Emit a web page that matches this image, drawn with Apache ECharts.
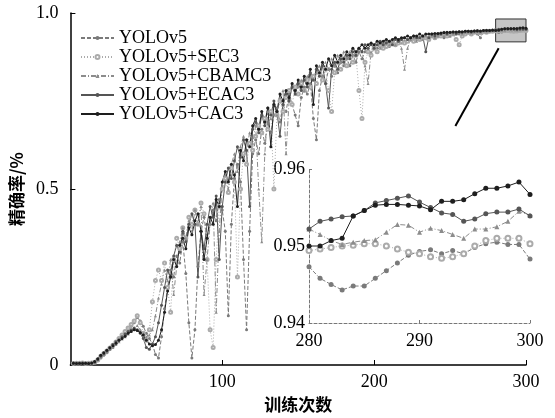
<!DOCTYPE html>
<html>
<head>
<meta charset="utf-8">
<script src="https://cdn.jsdelivr.net/npm/echarts@6/dist/echarts.min.js"></script>
<style>
  html, body { margin: 0; padding: 0; background: #fff; }
  #chart { width: 555px; height: 418px; }
</style>
</head>
<body>
<div id="chart"></div>
<script>
// 训练次数 2,4,...,300 (每两次取一点)
var names = ['YOLOv5', 'YOLOv5+SEC3', 'YOLOv5+CBAMC3', 'YOLOv5+ECAC3', 'YOLOv5+CAC3'];

var yolo = [
  .005,.006,.004,.005,.006,.005,.004,.007,.012,.02,
  .028,.035,.045,.052,.06,.07,.078,.09,.10,.11,
  .12,.135,.125,.11,.09,.075,.06,.03,.02,.08,
  .16,.22,.27,.25,.31,.29,.35,.26,.12,.02,
  .10,.28,.38,.42,.36,.40,.44,.41,.47,.44,
  .38,.14,.40,.53,.57,.52,.30,.10,.38,.60,
  .64,.60,.67,.63,.69,.66,.71,.73,.69,.74,
  .72,.77,.74,.71,.68,.76,.79,.77,.80,.70,
  .64,.78,.82,.80,.84,.82,.85,.83,.86,.85,
  .87,.85,.88,.86,.89,.87,.89,.90,.88,.90,
  .90,.91,.90,.91,.905,.915,.91,.92,.915,.92,
  .92,.925,.92,.925,.93,.925,.93,.93,.935,.93,
  .935,.935,.93,.94,.935,.94,.94,.94,.942,.943,
  .943,.944,.945,.94,.93,.946,.947,.947,.948,.9473,
  .9443,.9458,.9475,.9488,.9493,.9490,.9490,.9502,.9503,.9483
];
var sec = [
  .004,.005,.005,.006,.004,.005,.006,.008,.014,.025,
  .033,.04,.048,.056,.065,.075,.085,.095,.105,.115,
  .125,.14,.12,.09,.07,.10,.18,.24,.27,.24,
  .29,.22,.15,.30,.36,.33,.39,.36,.42,.40,
  .44,.40,.46,.43,.30,.10,.05,.30,.45,.50,
  .53,.49,.56,.52,.25,.50,.60,.57,.63,.61,
  .65,.68,.66,.70,.67,.72,.50,.71,.75,.72,
  .76,.78,.74,.79,.77,.80,.78,.81,.79,.82,
  .80,.83,.81,.84,.78,.72,.83,.86,.84,.87,
  .85,.88,.86,.88,.78,.70,.86,.89,.88,.90,
  .89,.91,.90,.905,.91,.92,.91,.915,.92,.915,
  .92,.925,.92,.93,.925,.93,.93,.925,.935,.93,
  .935,.935,.94,.935,.94,.94,.925,.91,.935,.94,
  .945,.94,.945,.946,.944,.947,.945,.948,.948,.9494,
  .9498,.9501,.9503,.9500,.9490,.9484,.9487,.9500,.9510,.9503
];
var cbam = [
  .004,.005,.006,.005,.004,.006,.005,.009,.016,.022,
  .03,.036,.044,.05,.058,.066,.074,.08,.088,.096,
  .104,.112,.10,.09,.08,.085,.10,.14,.19,.23,
  .27,.24,.30,.20,.28,.35,.39,.36,.41,.38,
  .44,.40,.45,.20,.30,.40,.46,.15,.38,.51,
  .54,.50,.57,.60,.55,.62,.65,.61,.66,.63,
  .68,.50,.35,.60,.72,.70,.74,.71,.76,.78,
  .60,.75,.80,.77,.79,.81,.78,.82,.83,.81,
  .83,.85,.82,.86,.84,.87,.85,.88,.86,.89,
  .87,.89,.90,.88,.90,.89,.85,.80,.89,.91,
  .91,.90,.915,.92,.91,.92,.91,.92,.90,.84,
  .90,.925,.93,.92,.93,.925,.935,.93,.935,.93,
  .935,.94,.935,.94,.935,.94,.94,.945,.94,.944,
  .945,.943,.946,.947,.945,.948,.946,.949,.95,.9522,
  .9507,.9505,.9508,.9528,.9518,.9520,.9510,.9522,.9532,.9540
];
var ecac = [
  .006,.005,.004,.006,.005,.004,.005,.008,.015,.025,
  .032,.04,.05,.058,.066,.072,.08,.088,.095,.10,
  .105,.10,.09,.075,.05,.045,.06,.08,.12,.17,
  .22,.27,.25,.31,.34,.32,.38,.35,.40,.43,
  .40,.25,.38,.33,.40,.45,.42,.48,.30,.45,
  .52,.56,.53,.58,.62,.59,.64,.61,.45,.67,
  .69,.66,.71,.68,.73,.71,.75,.72,.65,.74,
  .77,.75,.79,.77,.80,.78,.81,.79,.83,.81,
  .84,.82,.85,.80,.73,.84,.86,.84,.87,.86,
  .88,.87,.89,.88,.90,.89,.91,.90,.91,.90,
  .91,.92,.91,.915,.92,.91,.925,.92,.925,.93,
  .925,.93,.935,.93,.93,.935,.89,.93,.94,.935,
  .94,.94,.945,.94,.944,.946,.942,.947,.945,.948,
  .948,.946,.949,.95,.948,.95,.951,.95,.952,.9522,
  .9535,.9539,.9556,.9562,.9557,.9543,.9532,.9542,.9544,.9539
];
var cac = [
  .005,.004,.005,.004,.005,.004,.006,.01,.018,.028,
  .035,.042,.048,.055,.062,.07,.075,.082,.09,.095,
  .10,.098,.092,.085,.07,.06,.055,.058,.07,.10,
  .15,.21,.25,.30,.28,.34,.36,.33,.39,.37,
  .41,.43,.38,.30,.36,.42,.40,.47,.45,.52,
  .55,.52,.57,.54,.45,.61,.58,.64,.62,.68,
  .70,.67,.72,.69,.73,.62,.74,.72,.77,.75,
  .78,.76,.80,.78,.81,.79,.82,.80,.84,.74,
  .85,.83,.86,.84,.87,.85,.88,.86,.88,.87,
  .89,.88,.90,.89,.90,.91,.90,.91,.915,.91,
  .92,.915,.92,.925,.92,.925,.93,.925,.93,.93,
  .935,.93,.935,.935,.94,.935,.94,.94,.94,.942,
  .942,.943,.944,.945,.945,.946,.946,.947,.947,.948,
  .948,.948,.949,.949,.949,.95,.95,.95,.951,.95,
  .9507,.9539,.9553,.9554,.9552,.9558,.9560,.9575,.9578,.9567
];

// 局部放大 280-300
var yoloZoom = [.9473,.9458,.9450,.9443,.9448,.9448,.9458,.9468,.9478,.9488,.9493,.9495,.9490,.9494,.9490,.9498,.9503,.9505,.9502,.9502,.9483];
var secZoom  = [.9494,.9496,.9498,.9500,.9501,.9503,.9503,.9500,.9496,.9492,.9490,.9486,.9484,.9486,.9490,.9500,.9507,.9510,.9510,.9510,.9503];
var cbamZoom = [.9522,.9515,.9507,.9502,.9505,.9507,.9508,.9518,.9528,.9527,.9518,.9523,.9520,.9515,.9510,.9522,.9522,.9525,.9532,.9545,.9540];
var ecacZoom = [.9522,.9532,.9535,.9538,.9539,.9546,.9556,.9559,.9562,.9565,.9557,.9550,.9543,.9541,.9532,.9535,.9542,.9544,.9544,.9548,.9539];
var cacZoom  = [.9500,.9500,.9507,.9510,.9539,.9546,.9553,.9554,.9554,.9553,.9552,.9547,.9558,.9558,.9560,.9568,.9575,.9575,.9578,.9583,.9567];

// 放大框与指示线 (数据坐标)
var zoomBox = [[280, 0.918], [300, 0.983]];
var pointer = [[282, 0.900], [253.5, 0.679]];

var styles = [
  { color: '#7a7a7a', type: [4, 2], symbol: 'circle' },
  { color: '#ababab', type: [1, 2], symbol: 'emptyCircle' },
  { color: '#8c8c8c', type: [5, 2, 1, 2], symbol: 'triangle' },
  { color: '#555555', type: 'solid', symbol: 'circle' },
  { color: '#1e1e1e', type: 'solid', symbol: 'circle' }
];

var mainData = [yolo, sec, cbam, ecac, cac];
var zoomData = [yoloZoom, secZoom, cbamZoom, ecacZoom, cacZoom];
var serif = 'Liberation Serif';

var chart = echarts.init(document.getElementById('chart'));

var series = [];
mainData.forEach(function (arr, i) {
  var s = {
    name: names[i],
    type: 'line',
    xAxisIndex: 0,
    yAxisIndex: 0,
    symbol: styles[i].symbol,
    symbolSize: 3,
    showAllSymbol: true,
    itemStyle: { color: styles[i].color },
    lineStyle: { color: styles[i].color, width: 1, type: styles[i].type },
    data: arr.map(function (v, k) { return [(k + 1) * 2, v]; })
  };
  if (i === 4) {
    s.markArea = {
      silent: true,
      itemStyle: { color: 'rgba(150,150,150,0.55)', borderColor: '#333', borderWidth: 1 },
      data: [[{ coord: zoomBox[0] }, { coord: zoomBox[1] }]]
    };
    s.markLine = {
      silent: true,
      symbol: ['none', 'none'],
      label: { show: false },
      lineStyle: { color: '#000', width: 2, type: 'solid' },
      data: [[{ coord: pointer[0] }, { coord: pointer[1] }]]
    };
  }
  series.push(s);
});
zoomData.forEach(function (arr, i) {
  series.push({
    name: names[i],
    type: 'line',
    xAxisIndex: 1,
    yAxisIndex: 1,
    symbol: styles[i].symbol,
    symbolSize: 5,
    itemStyle: { color: styles[i].color },
    lineStyle: { color: styles[i].color, width: 1, type: styles[i].type },
    data: arr.map(function (v, k) { return [280 + k, v]; })
  });
});

var option = {
  animation: false,
  backgroundColor: '#fff',
  legend: {
    data: names,
    orient: 'vertical',
    left: 75,
    top: 24,
    itemWidth: 33,
    itemHeight: 5,
    itemGap: 1,
    textStyle: { fontFamily: serif, fontSize: 18, color: '#000', lineHeight: 16 }
  },
  grid: [
    { left: 69, right: 29, top: 13, bottom: 53 },
    { left: 309, right: 25, top: 169, bottom: 95 }
  ],
  xAxis: [{
    gridIndex: 0,
    type: 'value',
    min: 0, max: 300, interval: 100,
    name: '训练次数',
    nameLocation: 'middle',
    nameGap: 30,
    nameTextStyle: { fontFamily: 'Noto Sans CJK SC', fontWeight: 'bold', fontSize: 17, color: '#000' },
    axisLine: { lineStyle: { color: '#000', width: 1.5 } },
    axisTick: { inside: true, length: 5, lineStyle: { color: '#000' } },
    axisLabel: { showMinLabel: false, margin: 8, fontFamily: serif, fontSize: 18, color: '#000' },
    splitLine: { show: false }
  }, {
    gridIndex: 1,
    type: 'value',
    min: 280, max: 300, interval: 10,
    axisLine: { lineStyle: { color: '#777', width: 1, type: [3, 2] } },
    axisTick: { inside: true, length: 3, lineStyle: { color: '#777' } },
    axisLabel: { margin: 9, fontFamily: serif, fontSize: 18, color: '#000' },
    splitLine: { show: false }
  }],
  yAxis: [{
    gridIndex: 0,
    type: 'value',
    min: 0, max: 1, interval: 0.5,
    name: '精确率/%',
    nameLocation: 'middle',
    nameGap: 32,
    nameTextStyle: { fontFamily: 'Noto Sans CJK SC', fontWeight: 'bold', fontSize: 17, color: '#000' },
    axisLine: { show: true, lineStyle: { color: '#000', width: 1.5 } },
    axisTick: { show: true, inside: true, length: 5, lineStyle: { color: '#000' } },
    axisLabel: {
      margin: 12, fontFamily: serif, fontSize: 18, color: '#000',
      formatter: function (v) { return v === 0 ? '0' : v.toFixed(1); }
    },
    splitLine: { show: false }
  }, {
    gridIndex: 1,
    type: 'value',
    min: 0.94, max: 0.96, interval: 0.01,
    axisLine: { show: true, lineStyle: { color: '#777', width: 1, type: [3, 2] } },
    axisTick: { show: true, inside: true, length: 3, lineStyle: { color: '#777' } },
    axisLabel: {
      margin: 4, fontFamily: serif, fontSize: 18, color: '#000',
      formatter: function (v) { return v.toFixed(2); }
    },
    splitLine: { show: false }
  }],
  series: series
};

chart.setOption(option);
</script>
</body>
</html>
